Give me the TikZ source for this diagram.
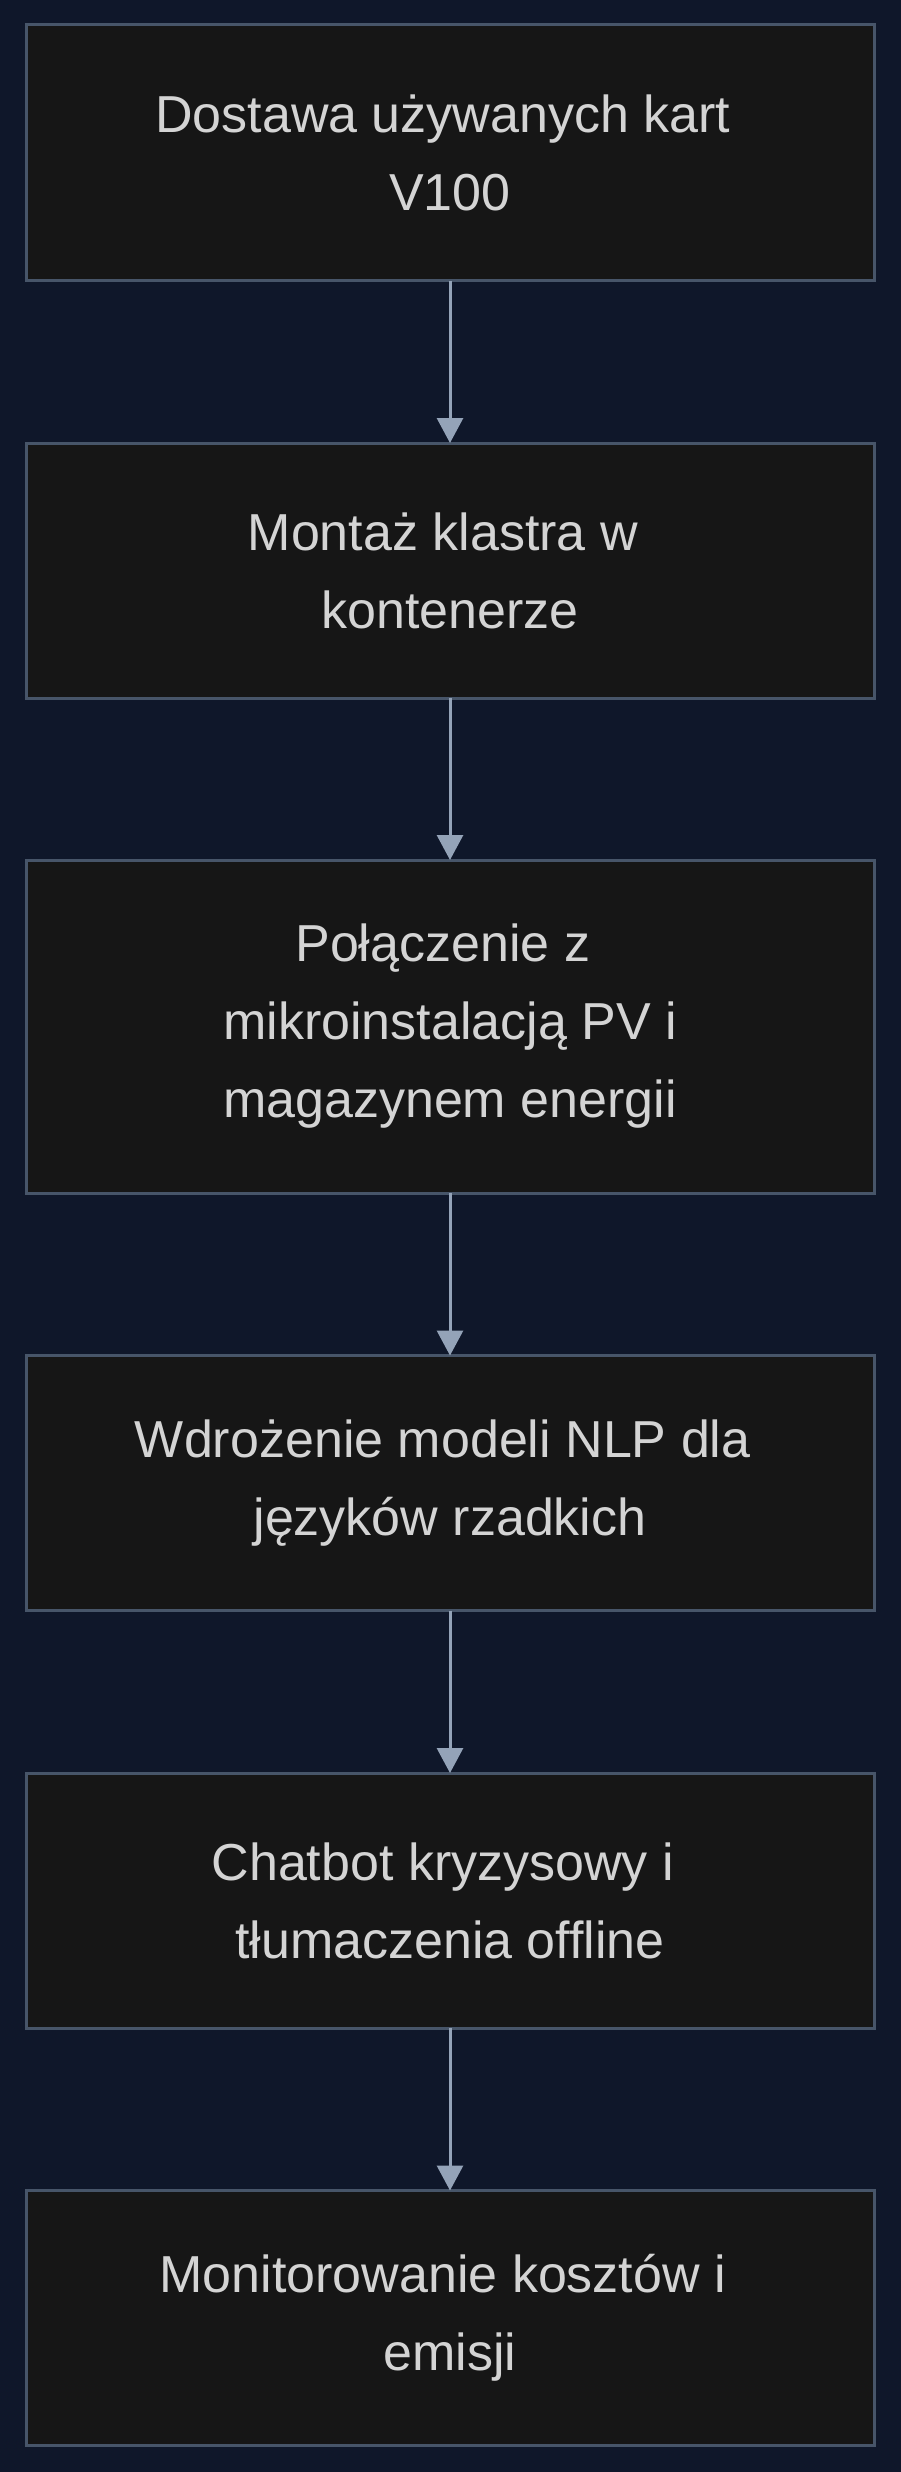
\documentclass[tikz,border=0pt]{standalone}
\usepackage{fontspec}
\setmainfont{Liberation Sans}
\usetikzlibrary{arrows.meta}
\definecolor{bgcol}{HTML}{0F172A}
\definecolor{boxfill}{HTML}{161616}
\definecolor{boxline}{HTML}{475569}
\definecolor{arrcol}{HTML}{94A3B8}
\definecolor{txtcol}{HTML}{D4D4D4}
\newcommand{\tsp}{\hspace*{0.278em}}
\tikzset{
  stagebox/.style={draw=boxline, fill=boxfill, line width=3pt, minimum width=848pt,
    inner sep=0pt, outer sep=0pt, align=center, text=txtcol,
    font=\fontsize{52}{78}\selectfont},
  flowarrow/.style={draw=arrcol, line width=3pt,
    -{Triangle[length=25pt,width=26pt,fill=arrcol]}}
}
\begin{document}
\begin{tikzpicture}[x=1pt,y=-1pt]
\useasboundingbox (0,0) rectangle (900,2472);
\fill[bgcol] (-5,-5) rectangle (905,2477);
\node[stagebox, minimum height=256pt] (b1) at (450,153) {Dostawa używanych kart\tsp\\V100};
\node[stagebox, minimum height=255pt] (b2) at (450,570.5) {Montaż klastra w\tsp\\kontenerze};
\node[stagebox, minimum height=333pt] (b3) at (450,1026.5) {Połączenie z\tsp\\mikroinstalacją PV i\tsp\\magazynem energii};
\node[stagebox, minimum height=255pt] (b4) at (450,1483) {Wdrożenie modeli NLP dla\tsp\\języków rzadkich};
\node[stagebox, minimum height=255pt] (b5) at (450,1900.5) {Chatbot kryzysowy i\tsp\\tłumaczenia offline};
\node[stagebox, minimum height=255pt] (b6) at (450,2318) {Monitorowanie kosztów i\tsp\\emisji};
\draw[flowarrow] (b1.south) -- (b2.north);
\draw[flowarrow] (b2.south) -- (b3.north);
\draw[flowarrow] (b3.south) -- (b4.north);
\draw[flowarrow] (b4.south) -- (b5.north);
\draw[flowarrow] (b5.south) -- (b6.north);
\end{tikzpicture}
\end{document}
